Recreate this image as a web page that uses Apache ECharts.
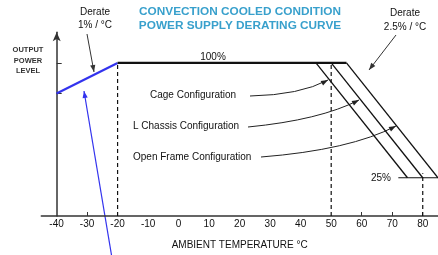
<!DOCTYPE html>
<html>
<head>
<meta charset="utf-8">
<script src="https://cdn.jsdelivr.net/npm/echarts@6/dist/echarts.min.js"></script>
<style>
  html, body { margin: 0; padding: 0; background: #fff; }
  #chart { width: 438px; height: 255px; }
</style>
</head>
<body>
<div id="chart"></div>
<script>
// x tick labels and the few ticks that are actually drawn
const tempLabels = [-40, -30, -20, -10, 0, 10, 20, 30, 40, 50, 60, 70, 80];
const tempTicks = [-30, 60, 70, 80];
const powerTicks = [80, 100];

// derating curve pieces (temperature °C, output %)
const coldDerate = [[-40, 80], [-20, 100]];
const fullPower = [[-20, 100], [55, 100]];
const cageLine = [[45, 100], [75, 25]];
const chassisLine = [[50, 100], [80, 25]];
const openFrameLine = [[55, 100], [85, 25]];
const quarterLine = [[72, 25], [85, 25]];
// dashed guides
const guideCold = [[-20, 0], [-20, 100]];
const guide50 = [[50, 0], [50, 100]];
const guide80 = [[80, 0], [80, 28]];

const font = 'Liberation Sans, Arial, sans-serif';

function lineSeries(data, color, width, dashed) {
  return {
    type: 'line',
    data: data,
    symbol: 'none',
    silent: true,
    clip: false,
    lineStyle: { color: color, width: width, type: dashed ? [4, 3] : 'solid' }
  };
}

// arrow head triangle at (x2,y2), coming from (x1,y1)
function head(x1, y1, x2, y2, color) {
  const a = Math.atan2(y2 - y1, x2 - x1);
  const l = 7, w = 2.6;
  const bx = x2 - l * Math.cos(a), by = y2 - l * Math.sin(a);
  return {
    type: 'polygon',
    shape: { points: [[x2, y2], [bx + w * Math.sin(a), by - w * Math.cos(a)], [bx - w * Math.sin(a), by + w * Math.cos(a)]] },
    style: { fill: color }
  };
}

function straightArrow(x1, y1, x2, y2, color, width) {
  return [
    { type: 'line', shape: { x1: x1, y1: y1, x2: x2, y2: y2 }, style: { stroke: color, lineWidth: width } },
    head(x1, y1, x2, y2, color)
  ];
}

function curveArrow(x1, y1, cx, cy, x2, y2) {
  return [
    { type: 'bezierCurve', shape: { x1: x1, y1: y1, cpx1: cx, cpy1: cy, x2: x2, y2: y2 }, style: { stroke: '#222', lineWidth: 1, fill: null } },
    head(cx, cy, x2, y2, '#222')
  ];
}

function txt(x, y, s, opt) {
  return {
    type: 'text',
    x: x, y: y,
    style: Object.assign({
      text: s, font: '10px ' + font, fill: '#111',
      textAlign: 'center', textVerticalAlign: 'middle'
    }, opt || {})
  };
}

const chart = echarts.init(document.getElementById('chart'), null, { renderer: 'canvas' });

let graphics = [
  txt(240, 12, 'CONVECTION COOLED CONDITION', { font: 'bold 11.8px ' + font, fill: '#38a0cc' }),
  txt(240, 26, 'POWER SUPPLY DERATING CURVE', { font: 'bold 11.8px ' + font, fill: '#38a0cc' }),
  txt(95, 12, 'Derate'),
  txt(95, 25, '1% / °C'),
  txt(405, 13, 'Derate'),
  txt(405, 27, '2.5% / °C'),
  txt(28, 50, 'OUTPUT', { font: 'bold 7.5px ' + font, fill: '#333' }),
  txt(28, 61, 'POWER', { font: 'bold 7.5px ' + font, fill: '#333' }),
  txt(28, 71, 'LEVEL', { font: 'bold 7.5px ' + font, fill: '#333' }),
  txt(213, 57, '100%'),
  txt(150, 95, 'Cage Configuration', { textAlign: 'left' }),
  txt(133, 126, 'L Chassis Configuration', { textAlign: 'left' }),
  txt(133, 157, 'Open Frame Configuration', { textAlign: 'left' }),
  txt(381, 178, '25%')
];
graphics = graphics
  .concat(straightArrow(87, 34, 94, 72, '#333', 1))
  .concat(straightArrow(396, 35, 369, 70, '#333', 1))
  .concat(straightArrow(112, 258, 84, 91, '#3333ee', 1.2))
  .concat(curveArrow(250, 96, 300, 95, 328, 80))
  .concat(curveArrow(248, 127, 320, 120, 359, 100))
  .concat(curveArrow(261, 157, 350, 150, 396, 126));

chart.setOption({
  animation: false,
  grid: { left: 41.3, right: -3.7, top: 32.3, bottom: 36.7 },
  xAxis: {
    type: 'value',
    min: -45,
    max: 85,
    name: 'AMBIENT TEMPERATURE °C',
    nameLocation: 'middle',
    nameGap: 24,
    nameTextStyle: { fontFamily: font, fontSize: 10, color: '#111' },
    axisLine: { onZero: false, lineStyle: { color: '#333', width: 1.5 } },
    axisTick: { show: true, inside: true, length: 4, customValues: tempTicks, lineStyle: { color: '#333' } },
    axisLabel: { customValues: tempLabels, fontFamily: font, fontSize: 10, color: '#111', margin: 3 },
    splitLine: { show: false }
  },
  yAxis: {
    type: 'value',
    min: 0,
    max: 120,
    offset: -15.4,
    axisLine: { show: true, onZero: false, symbol: ['none', 'arrow'], symbolSize: [6, 9], lineStyle: { color: '#333', width: 1.5 } },
    axisTick: { show: true, inside: true, length: 5, customValues: powerTicks, lineStyle: { color: '#333' } },
    axisLabel: { show: false },
    splitLine: { show: false }
  },
  series: [
    lineSeries(guideCold, '#111', 1.2, true),
    lineSeries(guide50, '#111', 1.2, true),
    lineSeries(guide80, '#111', 1.2, true),
    lineSeries(coldDerate, '#3333ee', 2.2, false),
    lineSeries(fullPower, '#111', 2.2, false),
    lineSeries(cageLine, '#111', 1.3, false),
    lineSeries(chassisLine, '#111', 1.3, false),
    lineSeries(openFrameLine, '#111', 1.3, false),
    lineSeries(quarterLine, '#111', 1.2, false)
  ],
  graphic: graphics
});
</script>
</body>
</html>
